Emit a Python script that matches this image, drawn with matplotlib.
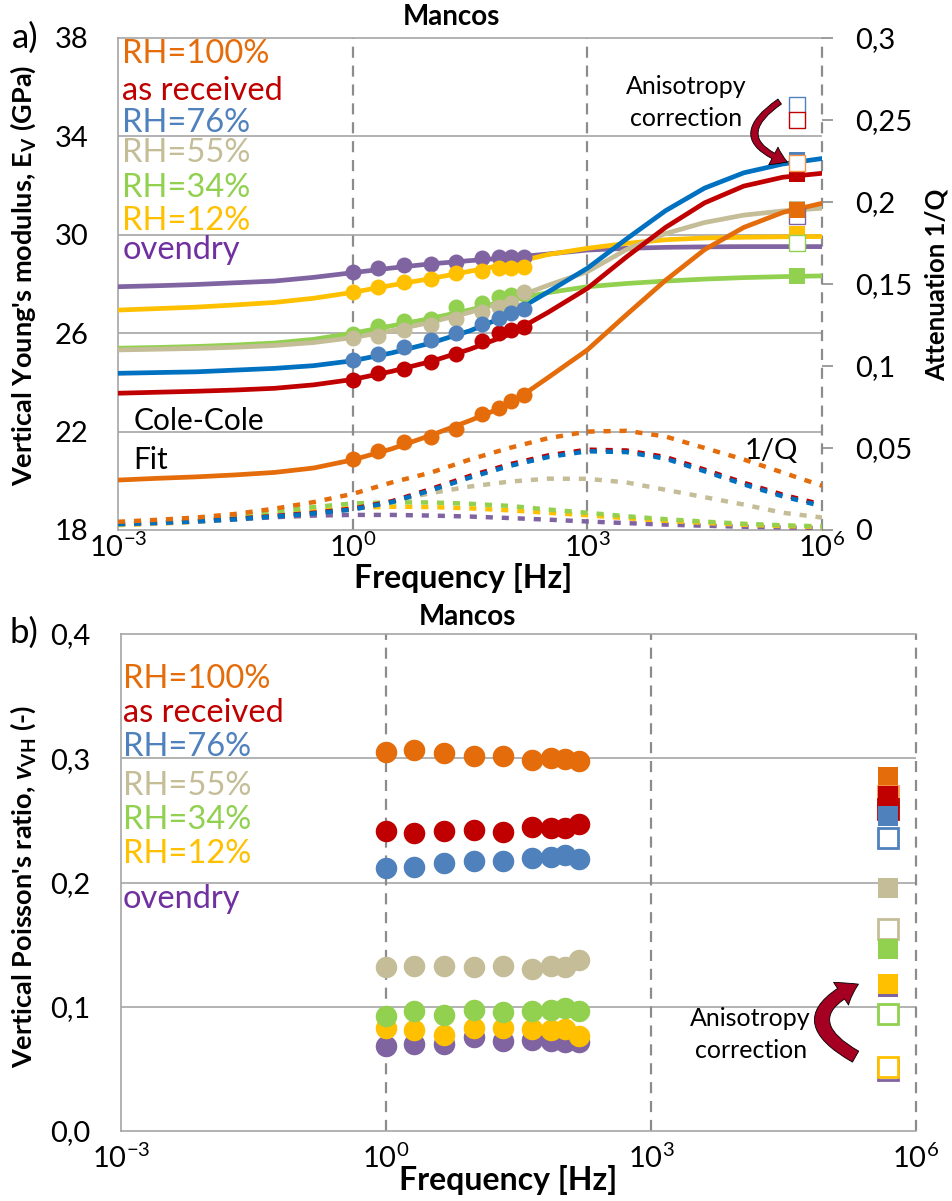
import numpy as np
import matplotlib
matplotlib.use('Agg')
from matplotlib import pyplot as plt
from matplotlib.patches import FancyArrowPatch
from matplotlib.ticker import NullLocator

plt.rcParams['font.family'] = ['Lato', 'DejaVu Sans']
plt.rcParams['mathtext.fontset'] = 'custom'
plt.rcParams['mathtext.rm'] = 'Lato'
plt.rcParams['mathtext.it'] = 'Lato:italic'
plt.rcParams['mathtext.bf'] = 'Lato:bold'
plt.rcParams['mathtext.bfit'] = 'Lato:italic:bold'

# series
names = ['RH=100%', 'as received', 'RH=76%', 'RH=55%', 'RH=34%', 'RH=12%', 'ovendry']
line_col = ['#E46C0A', '#C00000', '#0070C0', '#C4BD97', '#92D050', '#FFC000', '#8064A2']
dot_col = ['#E46C0A', '#C00000', '#4F81BD', '#C4BD97', '#92D050', '#FFC000', '#8064A2']
txt_col = ['#E46C0A', '#C00000', '#4F81BD', '#C4BD97', '#92D050', '#FFC000', '#7030A0']
open_col = ['#F79646', '#C00000', '#4F81BD', '#C4BD97', '#92D050', '#FFC000', '#8064A2']

# forced-oscillation frequencies [Hz]
freq = [1, 2.1, 4.5, 10, 21, 45, 74, 105, 155]
# ultrasonic frequency [Hz]
freq_us = 4.8e5

# vertical Young's modulus [GPa]
E_rh100 = [20.89, 21.22, 21.56, 21.80, 22.12, 22.70, 22.96, 23.23, 23.50]
E_asrec = [24.10, 24.40, 24.53, 24.84, 25.14, 25.68, 25.99, 26.15, 26.24]
E_rh76 = [24.91, 25.15, 25.45, 25.72, 26.02, 26.36, 26.60, 26.83, 26.97]
E_rh55 = [25.79, 25.89, 26.13, 26.33, 26.58, 26.87, 27.08, 27.21, 27.66]
E_rh34 = [25.97, 26.31, 26.50, 26.58, 27.05, 27.21, 27.48, 27.55, 27.60]
E_rh12 = [27.66, 27.89, 28.07, 28.19, 28.43, 28.54, 28.64, 28.64, 28.70]
E_oven = [28.48, 28.65, 28.77, 28.80, 28.90, 29.05, 29.10, 29.10, 29.10]

# vertical Poisson's ratio [-]
nu_rh100 = [0.305, 0.307, 0.3045, 0.3016, 0.3016, 0.2984, 0.2998, 0.2992, 0.2978]
nu_asrec = [0.2416, 0.2395, 0.2416, 0.2422, 0.2408, 0.2448, 0.2435, 0.2435, 0.247]
nu_rh76 = [0.2114, 0.2127, 0.2159, 0.2173, 0.2173, 0.2194, 0.2202, 0.2221, 0.2186]
nu_rh55 = [0.1316, 0.1324, 0.1324, 0.1316, 0.133, 0.1305, 0.1324, 0.1316, 0.1373]
nu_rh34 = [0.0922, 0.0962, 0.093, 0.097, 0.0954, 0.0962, 0.0976, 0.099, 0.0962]
nu_rh12 = [0.0829, 0.081, 0.0775, 0.0829, 0.0829, 0.082, 0.0815, 0.082, 0.0761]
nu_oven = [0.0687, 0.0703, 0.0703, 0.0757, 0.0722, 0.0735, 0.0722, 0.0713, 0.0713]

# Cole-Cole fit, read every half decade (exponent of frequency)
fit_exp = [-3, -2.5, -2, -1.5, -1, -0.5, 0, 0.5, 1, 1.5, 2, 2.5, 3, 3.5, 4, 4.5, 5, 5.5, 6]
Efit_rh100 = [20.03, 20.10, 20.16, 20.24, 20.34, 20.52, 20.85, 21.30, 21.85, 22.45, 23.10, 24.20, 25.32, 26.75, 28.15, 29.40, 30.30, 30.91, 31.28]
Efit_asrec = [23.56, 23.60, 23.64, 23.69, 23.76, 23.90, 24.12, 24.45, 24.85, 25.35, 25.95, 26.85, 27.82, 29.10, 30.30, 31.30, 31.98, 32.34, 32.50]
Efit_rh76 = [24.37, 24.40, 24.43, 24.50, 24.57, 24.68, 24.88, 25.20, 25.60, 26.10, 26.75, 27.68, 28.64, 29.83, 30.98, 31.90, 32.52, 32.88, 33.10]
Efit_rh55 = [25.32, 25.35, 25.38, 25.43, 25.50, 25.62, 25.82, 26.10, 26.45, 26.85, 27.35, 27.95, 28.50, 29.40, 30.05, 30.50, 30.80, 30.97, 31.08]
Efit_rh34 = [25.39, 25.42, 25.46, 25.52, 25.60, 25.75, 26.00, 26.30, 26.60, 26.95, 27.35, 27.65, 27.89, 28.02, 28.12, 28.20, 28.26, 28.30, 28.33]
Efit_rh12 = [26.94, 27.00, 27.06, 27.15, 27.25, 27.42, 27.66, 27.95, 28.22, 28.52, 28.82, 29.20, 29.45, 29.65, 29.80, 29.87, 29.90, 29.92, 29.93]
Efit_oven = [27.89, 27.93, 27.98, 28.05, 28.12, 28.27, 28.46, 28.65, 28.82, 28.95, 29.07, 29.22, 29.38, 29.45, 29.49, 29.51, 29.52, 29.52, 29.52]

# attenuation 1/Q from the fit
Q_rh100 = [0.005, 0.0062, 0.0076, 0.0098, 0.013, 0.017, 0.022, 0.029, 0.035, 0.043, 0.050, 0.056, 0.060, 0.0605, 0.057, 0.050, 0.043, 0.035, 0.027]
Q_asrec = [0.0038, 0.0045, 0.0055, 0.0068, 0.0085, 0.0105, 0.013, 0.0175, 0.025, 0.033, 0.040, 0.0455, 0.049, 0.0485, 0.0445, 0.0368, 0.0288, 0.0215, 0.0155]
Q_rh76 = [0.0036, 0.0043, 0.0052, 0.0065, 0.0082, 0.0101, 0.0125, 0.017, 0.0242, 0.032, 0.039, 0.0445, 0.048, 0.0475, 0.0435, 0.0358, 0.0278, 0.0205, 0.0145]
Q_rh55 = [0.0035, 0.004, 0.005, 0.0065, 0.0085, 0.0105, 0.0125, 0.0175, 0.0225, 0.0265, 0.0295, 0.0313, 0.0312, 0.029, 0.0245, 0.020, 0.0155, 0.0105, 0.0076]
Q_rh34 = [0.0035, 0.0045, 0.006, 0.0085, 0.011, 0.014, 0.0162, 0.0169, 0.0168, 0.016, 0.0147, 0.0125, 0.0105, 0.0084, 0.0066, 0.0051, 0.0038, 0.0029, 0.0022]
Q_rh12 = [0.003, 0.0038, 0.005, 0.0068, 0.009, 0.0115, 0.0135, 0.0142, 0.014, 0.0132, 0.012, 0.0105, 0.009, 0.0072, 0.0056, 0.0043, 0.0032, 0.0024, 0.0018]
Q_oven = [0.0033, 0.0042, 0.0052, 0.0065, 0.0078, 0.0088, 0.0092, 0.0092, 0.0088, 0.0082, 0.0073, 0.0063, 0.0052, 0.0042, 0.0033, 0.0026, 0.002, 0.0015, 0.0012]

# ultrasonic values (filled) and after anisotropy correction (open), nan = hidden
Eus_filled = [31.0, 32.47, 33.05, 31.05, 28.33, 30.03, 29.62]
Eus_open = [32.9, 34.65, 35.29, np.nan, 29.65, np.nan, 30.75]
nuus_filled = [0.285, 0.270, 0.2537, 0.1953, 0.1463, 0.118, 0.116]
nuus_open = [0.270, 0.259, 0.2355, 0.1624, 0.0944, 0.0515, 0.0488]

E_all = [E_rh100, E_asrec, E_rh76, E_rh55, E_rh34, E_rh12, E_oven]
nu_all = [nu_rh100, nu_asrec, nu_rh76, nu_rh55, nu_rh34, nu_rh12, nu_oven]
Efit_all = [Efit_rh100, Efit_asrec, Efit_rh76, Efit_rh55, Efit_rh34, Efit_rh12, Efit_oven]
Q_all = [Q_rh100, Q_asrec, Q_rh76, Q_rh55, Q_rh34, Q_rh12, Q_oven]
fit_freq = 10.0 ** np.array(fit_exp)

W, H = 952, 1201
fig = plt.figure(figsize=(W / 100.0, H / 100.0), dpi=100)
ax1 = fig.add_axes([118.0 / W, 1 - 530.0 / H, 704.0 / W, 492.0 / H])
ax3 = fig.add_axes([121.0 / W, 1 - 1131.0 / H, 795.0 / W, 497.0 / H])

def px(x, y):
  return (x / float(W), 1 - y / float(H))

grid_col = '#A6A6A6'
vdash_col = '#8C8C8C'
TICK = 21
xlabels = [r'$\mathregular{10^{-3}}$', r'$\mathregular{10^{0}}$',
           r'$\mathregular{10^{3}}$', r'$\mathregular{10^{6}}$']

def frame(ax, yticks, ylabels, ypad, xpad):
  ax.set_xscale('log')
  ax.set_xlim(1e-3, 1e6)
  ax.set_xticks([1e-3, 1, 1e3, 1e6])
  ax.set_xticklabels(xlabels)
  ax.xaxis.set_minor_locator(NullLocator())
  ax.set_yticks(yticks)
  ax.set_yticklabels(ylabels)
  ax.tick_params(axis='x', length=0, labelsize=TICK, pad=xpad)
  ax.tick_params(axis='y', length=0, labelsize=TICK, pad=ypad)
  for s in ['top', 'left', 'bottom']:
    ax.spines[s].set_color(grid_col)
    ax.spines[s].set_linewidth(1.2)
  ax.spines['right'].set_visible(False)
  for y in yticks[1:-1]:
    ax.axhline(y, color=grid_col, lw=1.2, zorder=0)
  for x in [1, 1e3, 1e6]:
    ax.axvline(x, color=vdash_col, lw=1.6, ls=(0, (5, 3.5)), zorder=0.5, clip_on=False)

def sq(ax, i, val, filled, ms, mew, tr):
  if np.isnan(val):
    return
  if filled:
    ax.plot([freq_us], [val], 's', color=dot_col[i], ms=ms, mew=0, zorder=5, transform=tr)
  else:
    ax.plot([freq_us], [val], 's', mfc='white', mec=open_col[i], ms=ms, mew=mew, zorder=5,
            transform=tr)

# ---- panel a) ----
frame(ax1, [18, 22, 26, 30, 34, 38], ['18', '22', '26', '30', '34', '38'], 21, 2)
ax1.set_ylim(18, 38)
ax2 = ax1.twinx()
ax2.set_ylim(0, 0.3)
ax2.set_yticks([0, 0.05, 0.1, 0.15, 0.2, 0.25, 0.3])
ax2.set_yticklabels(['0', '0,05', '0,1', '0,15', '0,2', '0,25', '0,3'])
ax2.tick_params(axis='y', length=8, width=1.2, color=vdash_col, labelsize=TICK, pad=16)
for s in ax2.spines.values():
  s.set_visible(False)

tr1 = ax1.transData
for i in [6, 5, 4, 3, 1, 2, 0]:
  ax2.plot(fit_freq, Q_all[i], color=line_col[i], lw=3.2, ls=(0, (1.6, 2.0)),
           dash_capstyle='butt', zorder=2)
for i in [6, 5, 4, 3, 1, 2, 0]:
  ax2.plot(fit_freq, Efit_all[i], color=line_col[i], lw=3.4, zorder=3, transform=tr1)
for i in [6, 5, 4, 3, 1, 2, 0]:
  ax2.plot(freq, E_all[i], 'o', color=dot_col[i], ms=11.5, mew=0, zorder=4, transform=tr1)

for i, f in [(2, 1), (1, 1), (0, 0), (6, 0), (3, 1), (0, 1), (6, 1), (5, 1), (4, 0), (4, 1), (2, 0), (1, 0)]:
  sq(ax2, i, Eus_filled[i] if f else Eus_open[i], f, 11.5, 1.0, tr1)

fig.text(23.0 / W, 1 - 275.0 / H, r"Vertical Young's modulus, E$_{\mathbf{V}}$ (GPa)",
         weight='bold', fontsize=19.5, rotation=90, ha='center', va='center')
fig.text(937.0 / W, 1 - 285.0 / H, 'Attenuation 1/Q', weight='bold', fontsize=18.5,
         rotation=90, ha='center', va='center')
fig.text(451.0 / W, 1 - 17.0 / H, 'Mancos', weight='bold', fontsize=20, ha='center', va='center')

top_base = [63, 100, 132, 162, 197, 230, 259]
for i in range(7):
  ax1.text(0.006, (530 - top_base[i]) / 492.0, names[i], color=txt_col[i], fontsize=23.5,
           va='baseline', ha='left', transform=ax1.transAxes)
ax1.text(0.022, (530 - 430) / 492.0, 'Cole-Cole', fontsize=21.5, va='baseline', transform=ax1.transAxes)
ax1.text(0.022, (530 - 469) / 492.0, 'Fit', fontsize=21.5, va='baseline', transform=ax1.transAxes)
ax1.text((745 - 118) / 704.0, (530 - 459) / 492.0, '1/Q', fontsize=21, va='baseline',
         transform=ax1.transAxes)
fig.text(686.0 / W, 1 - 87.0 / H, 'Anisotropy', fontsize=18, ha='center', va='center')
fig.text(686.0 / W, 1 - 119.0 / H, 'correction', fontsize=18, ha='center', va='center')
fig.text(12.0 / W, 1 - 38.0 / H, 'a)', fontsize=25, ha='left', va='center')
fig.text(463.0 / W, 1 - 578.0 / H, 'Frequency [Hz]', fontsize=23, weight='bold', ha='center', va='center')

# ---- panel b) ----
frame(ax3, [0, 0.1, 0.2, 0.3, 0.4], ['0,0', '0,1', '0,2', '0,3', '0,4'], 22, 9)
ax3.set_ylim(0, 0.4)
for i in [0, 1, 2, 3, 6, 5, 4]:
  ax3.plot(freq, nu_all[i], 'o', color=dot_col[i], ms=15.5, mew=0, zorder=4)
tr3 = ax3.transData
for i, f in [(0, 1), (0, 0), (1, 0), (1, 1), (2, 1), (2, 0), (3, 1), (3, 0), (4, 1), (6, 1),
             (5, 1), (4, 0), (6, 0), (5, 0)]:
  sq(ax3, i, nuus_filled[i] if f else nuus_open[i], f, 15, 2.0, tr3)

fig.text(23.0 / W, 1 - 887.0 / H, r"Vertical Poisson's ratio, $\mathbfit{v}_{\mathbf{VH}}$ (-)",
         weight='bold', fontsize=19.5, rotation=90, ha='center', va='center')
fig.text(467.0 / W, 1 - 617.0 / H, 'Mancos', weight='bold', fontsize=20, ha='center', va='center')
bot_base = [688, 722, 756, 795, 829, 863, 908]
for i in range(7):
  ax3.text(0.002, (1131 - bot_base[i]) / 497.0, names[i], color=txt_col[i], fontsize=23.5,
           va='baseline', ha='left', transform=ax3.transAxes)
fig.text(750.0 / W, 1 - 1018.0 / H, 'Anisotropy', fontsize=18, ha='center', va='center')
fig.text(751.0 / W, 1 - 1050.0 / H, 'correction', fontsize=18, ha='center', va='center')
fig.text(10.0 / W, 1 - 633.0 / H, 'b)', fontsize=25, ha='left', va='center')
fig.text(508.0 / W, 1 - 1180.0 / H, 'Frequency [Hz]', fontsize=23, weight='bold', ha='center', va='center')

# curved arrows
a1 = FancyArrowPatch(px(782, 100), px(790, 163), transform=fig.transFigure,
                     connectionstyle='arc3,rad=1.0',
                     arrowstyle='simple,head_width=1.3,head_length=1.0,tail_width=0.4',
                     mutation_scale=11, fc='#A50021', ec='black', lw=0.6, zorder=6)
fig.patches.append(a1)
a2 = FancyArrowPatch(px(858, 1058), px(861, 983), transform=fig.transFigure,
                     connectionstyle='arc3,rad=-1.0',
                     arrowstyle='simple,head_width=1.5,head_length=1.1,tail_width=0.7',
                     mutation_scale=13, fc='#A50021', ec='black', lw=0.6, zorder=6)
fig.patches.append(a2)

plt.savefig('out.png', dpi=100)
